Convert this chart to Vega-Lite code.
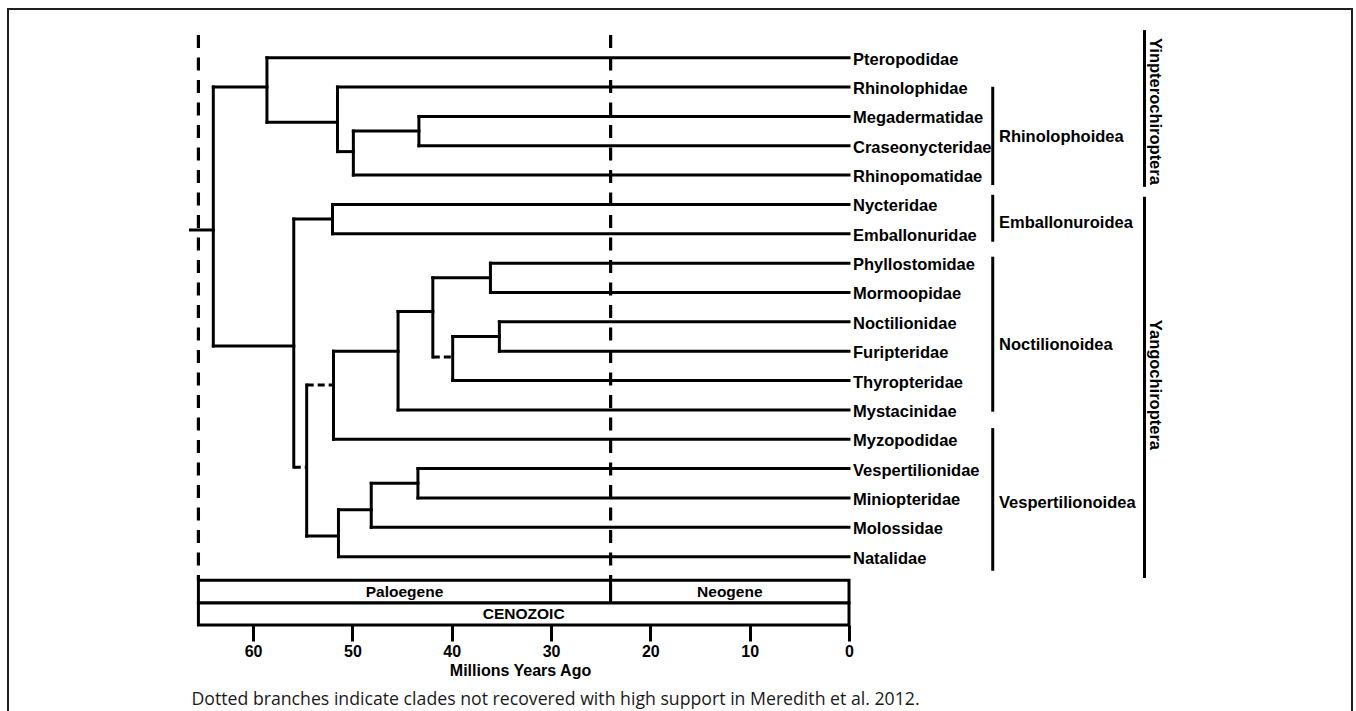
{
  "$schema": "https://vega.github.io/schema/vega-lite/v6.json",
  "autosize": {"type": "none"},
  "padding": {"left": 8, "top": 9, "right": 4, "bottom": 0},
  "width": 1344,
  "height": 702,
  "background": "white",
  "config": {
    "view": {"stroke": null},
    "text": {"font": "Liberation Sans", "fontWeight": "bold", "fontSize": 16.5, "color": "black"}
  },
  "resolve": {"axis": {"x": "independent", "y": "independent"}},
  "datasets": {
    "branches": [
      {"x1": 58.6, "x2": 0, "y1": 0, "y2": 0, "support": "high"},
      {"x1": 51.5, "x2": 0, "y1": 1, "y2": 1, "support": "high"},
      {"x1": 43.3, "x2": 0, "y1": 2, "y2": 2, "support": "high"},
      {"x1": 43.3, "x2": 0, "y1": 3, "y2": 3, "support": "high"},
      {"x1": 49.9, "x2": 0, "y1": 4, "y2": 4, "support": "high"},
      {"x1": 52.0, "x2": 0, "y1": 5, "y2": 5, "support": "high"},
      {"x1": 52.0, "x2": 0, "y1": 6, "y2": 6, "support": "high"},
      {"x1": 36.1, "x2": 0, "y1": 7, "y2": 7, "support": "high"},
      {"x1": 36.1, "x2": 0, "y1": 8, "y2": 8, "support": "high"},
      {"x1": 35.2, "x2": 0, "y1": 9, "y2": 9, "support": "high"},
      {"x1": 35.2, "x2": 0, "y1": 10, "y2": 10, "support": "high"},
      {"x1": 39.9, "x2": 0, "y1": 11, "y2": 11, "support": "high"},
      {"x1": 45.4, "x2": 0, "y1": 12, "y2": 12, "support": "high"},
      {"x1": 51.9, "x2": 0, "y1": 13, "y2": 13, "support": "high"},
      {"x1": 43.4, "x2": 0, "y1": 14, "y2": 14, "support": "high"},
      {"x1": 43.4, "x2": 0, "y1": 15, "y2": 15, "support": "high"},
      {"x1": 48.1, "x2": 0, "y1": 16, "y2": 16, "support": "high"},
      {"x1": 51.4, "x2": 0, "y1": 17, "y2": 17, "support": "high"},
      {"x1": 64.0, "x2": 58.6, "y1": 1.0, "y2": 1.0, "support": "high"},
      {"x1": 58.6, "x2": 51.5, "y1": 2.2, "y2": 2.2, "support": "high"},
      {"x1": 51.5, "x2": 49.9, "y1": 3.2, "y2": 3.2, "support": "high"},
      {"x1": 49.9, "x2": 43.3, "y1": 2.5, "y2": 2.5, "support": "high"},
      {"x1": 64.0, "x2": 55.9, "y1": 9.82, "y2": 9.82, "support": "high"},
      {"x1": 55.9, "x2": 52.0, "y1": 5.5, "y2": 5.5, "support": "high"},
      {"x1": 55.9, "x2": 54.6, "y1": 13.95, "y2": 13.95, "support": "low"},
      {"x1": 54.6, "x2": 51.9, "y1": 11.15, "y2": 11.15, "support": "low"},
      {"x1": 51.9, "x2": 45.4, "y1": 10.0, "y2": 10.0, "support": "high"},
      {"x1": 45.4, "x2": 41.9, "y1": 8.65, "y2": 8.65, "support": "high"},
      {"x1": 41.9, "x2": 36.1, "y1": 7.5, "y2": 7.5, "support": "high"},
      {"x1": 41.9, "x2": 39.9, "y1": 10.2, "y2": 10.2, "support": "low"},
      {"x1": 39.9, "x2": 35.2, "y1": 9.5, "y2": 9.5, "support": "high"},
      {"x1": 54.6, "x2": 51.4, "y1": 16.3, "y2": 16.3, "support": "high"},
      {"x1": 51.4, "x2": 48.1, "y1": 15.4, "y2": 15.4, "support": "high"},
      {"x1": 48.1, "x2": 43.4, "y1": 14.5, "y2": 14.5, "support": "high"},
      {"x1": 66.3, "x2": 64.0, "y1": 5.87, "y2": 5.87, "support": "high"},
      {"x1": 64.0, "x2": 64.0, "y1": 1.0, "y2": 9.82, "support": "high"},
      {"x1": 58.6, "x2": 58.6, "y1": 0, "y2": 2.2, "support": "high"},
      {"x1": 51.5, "x2": 51.5, "y1": 1, "y2": 3.2, "support": "high"},
      {"x1": 49.9, "x2": 49.9, "y1": 2.5, "y2": 4, "support": "high"},
      {"x1": 43.3, "x2": 43.3, "y1": 2, "y2": 3, "support": "high"},
      {"x1": 55.9, "x2": 55.9, "y1": 5.5, "y2": 13.95, "support": "high"},
      {"x1": 52.0, "x2": 52.0, "y1": 5, "y2": 6, "support": "high"},
      {"x1": 54.6, "x2": 54.6, "y1": 11.15, "y2": 16.3, "support": "high"},
      {"x1": 51.9, "x2": 51.9, "y1": 10.0, "y2": 13, "support": "high"},
      {"x1": 45.4, "x2": 45.4, "y1": 8.65, "y2": 12, "support": "high"},
      {"x1": 41.9, "x2": 41.9, "y1": 7.5, "y2": 10.2, "support": "high"},
      {"x1": 36.1, "x2": 36.1, "y1": 7, "y2": 8, "support": "high"},
      {"x1": 39.9, "x2": 39.9, "y1": 9.5, "y2": 11, "support": "high"},
      {"x1": 35.2, "x2": 35.2, "y1": 9, "y2": 10, "support": "high"},
      {"x1": 51.4, "x2": 51.4, "y1": 15.4, "y2": 17, "support": "high"},
      {"x1": 48.1, "x2": 48.1, "y1": 14.5, "y2": 16, "support": "high"},
      {"x1": 43.4, "x2": 43.4, "y1": 14, "y2": 15, "support": "high"}
    ],
    "leaves": [
      {"family": "Pteropodidae", "row": 0},
      {"family": "Rhinolophidae", "row": 1},
      {"family": "Megadermatidae", "row": 2},
      {"family": "Craseonycteridae", "row": 3},
      {"family": "Rhinopomatidae", "row": 4},
      {"family": "Nycteridae", "row": 5},
      {"family": "Emballonuridae", "row": 6},
      {"family": "Phyllostomidae", "row": 7},
      {"family": "Mormoopidae", "row": 8},
      {"family": "Noctilionidae", "row": 9},
      {"family": "Furipteridae", "row": 10},
      {"family": "Thyropteridae", "row": 11},
      {"family": "Mystacinidae", "row": 12},
      {"family": "Myzopodidae", "row": 13},
      {"family": "Vespertilionidae", "row": 14},
      {"family": "Miniopteridae", "row": 15},
      {"family": "Molossidae", "row": 16},
      {"family": "Natalidae", "row": 17}
    ],
    "superfamilies": [
      {"name": "Rhinolophoidea", "at": -14.47, "labelAt": -15.1, "top": 0.99, "bottom": 4.34, "labelRow": 2.7},
      {"name": "Emballonuroidea", "at": -14.47, "labelAt": -15.1, "top": 4.67, "bottom": 6.27, "labelRow": 5.63},
      {"name": "Noctilionoidea", "at": -14.47, "labelAt": -15.1, "top": 6.78, "bottom": 12.06, "labelRow": 9.79},
      {"name": "Vespertilionoidea", "at": -14.47, "labelAt": -15.1, "top": 12.62, "bottom": 17.48, "labelRow": 15.18}
    ],
    "suborders": [
      {"name": "Yinpterochiroptera", "at": -29.75, "labelAt": -30.3, "top": -0.94, "bottom": 4.4, "labelRow": 1.83},
      {"name": "Yangochiroptera", "at": -29.75, "labelAt": -30.3, "top": 4.74, "bottom": 17.73, "labelRow": 11.15}
    ],
    "boundaries": [
      {"ma": 65.5, "top": -0.77, "bottom": 17.8},
      {"ma": 24.0, "top": -0.77, "bottom": 17.8}
    ],
    "periods": [
      {"name": "Paloegene", "start": 65.5, "end": 24.0, "mid": 44.75, "top": 17.8, "bottom": 18.58, "labelRow": 18.19},
      {"name": "Neogene", "start": 24.0, "end": 0, "mid": 12.0, "top": 17.8, "bottom": 18.58, "labelRow": 18.19},
      {"name": "CENOZOIC", "start": 65.5, "end": 0, "mid": 32.75, "top": 18.58, "bottom": 19.33, "labelRow": 18.955}
    ],
    "caption": [
      {"text": "Dotted branches indicate clades not recovered with high support in Meredith et al. 2012.", "at": 66.2, "row": 21.88}
    ]
  },
  "layer": [
    {
      "data": {"values": [{"panel": "frame"}]},
      "mark": {"type": "rect", "fill": null, "stroke": "#1f1f1f", "strokeWidth": 2},
      "encoding": {
        "x": {"datum": 84.67, "type": "quantitative", "scale": {"domain": [-50.64, 84.67], "reverse": true, "nice": false, "zero": false},
          "axis": {"title": "Millions Years Ago", "values": [0, 10, 20, 30, 40, 50, 60], "format": "d", "domain": false, "grid": false,
            "tickSize": 16, "tickWidth": 3, "tickColor": "black", "offset": -86,
            "labelFont": "Liberation Sans", "labelFontWeight": "bold", "labelFontSize": 16, "labelColor": "black", "labelPadding": 2,
            "titleFont": "Liberation Sans", "titleFontWeight": "bold", "titleFontSize": 16, "titleColor": "black",
            "titleX": 512, "titleY": 45, "titleBaseline": "middle", "titleAlign": "center"}},
        "x2": {"datum": -50.64},
        "y": {"datum": -1.659, "type": "quantitative", "scale": {"domain": [-1.659, 22.259], "reverse": true, "nice": false, "zero": false}, "axis": null},
        "y2": {"datum": 22.8}
      }
    },
    {
      "data": {"name": "boundaries"},
      "mark": {"type": "rule", "strokeWidth": 3.2, "color": "black", "strokeDash": [13, 9.5], "strokeCap": "butt"},
      "encoding": {
        "x": {"field": "ma", "type": "quantitative", "scale": {"domain": [-50.64, 84.67], "reverse": true, "nice": false, "zero": false}, "axis": null},
        "y": {"field": "top", "type": "quantitative", "scale": {"domain": [-1.659, 22.259], "reverse": true, "nice": false, "zero": false}, "axis": null},
        "y2": {"field": "bottom"}
      }
    },
    {
      "data": {"name": "branches"},
      "transform": [{"filter": "datum.support === 'high'"}],
      "mark": {"type": "rule", "strokeWidth": 3, "color": "black", "strokeCap": "square"},
      "encoding": {
        "x": {"field": "x1", "type": "quantitative", "scale": {"domain": [-50.64, 84.67], "reverse": true, "nice": false, "zero": false}, "axis": null},
        "x2": {"field": "x2"},
        "y": {"field": "y1", "type": "quantitative", "scale": {"domain": [-1.659, 22.259], "reverse": true, "nice": false, "zero": false}, "axis": null},
        "y2": {"field": "y2"}
      }
    },
    {
      "data": {"name": "branches"},
      "transform": [{"filter": "datum.support === 'low'"}],
      "mark": {"type": "rule", "strokeWidth": 3, "color": "black", "strokeCap": "butt", "strokeDash": [7, 4]},
      "encoding": {
        "x": {"field": "x1", "type": "quantitative", "scale": {"domain": [-50.64, 84.67], "reverse": true, "nice": false, "zero": false}, "axis": null},
        "x2": {"field": "x2"},
        "y": {"field": "y1", "type": "quantitative", "scale": {"domain": [-1.659, 22.259], "reverse": true, "nice": false, "zero": false}, "axis": null},
        "y2": {"field": "y2"}
      }
    },
    {
      "data": {"name": "leaves"},
      "mark": {"type": "text", "align": "left", "baseline": "middle", "dx": 4, "dy": 2},
      "encoding": {
        "x": {"datum": 0, "type": "quantitative", "scale": {"domain": [-50.64, 84.67], "reverse": true, "nice": false, "zero": false}, "axis": null},
        "y": {"field": "row", "type": "quantitative", "scale": {"domain": [-1.659, 22.259], "reverse": true, "nice": false, "zero": false}, "axis": null},
        "text": {"field": "family"}
      }
    },
    {
      "data": {"name": "superfamilies"},
      "mark": {"type": "rule", "strokeWidth": 3, "color": "black"},
      "encoding": {
        "x": {"field": "at", "type": "quantitative", "scale": {"domain": [-50.64, 84.67], "reverse": true, "nice": false, "zero": false}, "axis": null},
        "y": {"field": "top", "type": "quantitative", "scale": {"domain": [-1.659, 22.259], "reverse": true, "nice": false, "zero": false}, "axis": null},
        "y2": {"field": "bottom"}
      }
    },
    {
      "data": {"name": "superfamilies"},
      "mark": {"type": "text", "align": "left", "baseline": "middle"},
      "encoding": {
        "x": {"field": "labelAt", "type": "quantitative", "scale": {"domain": [-50.64, 84.67], "reverse": true, "nice": false, "zero": false}, "axis": null},
        "y": {"field": "labelRow", "type": "quantitative", "scale": {"domain": [-1.659, 22.259], "reverse": true, "nice": false, "zero": false}, "axis": null},
        "text": {"field": "name"}
      }
    },
    {
      "data": {"name": "suborders"},
      "mark": {"type": "rule", "strokeWidth": 3, "color": "black"},
      "encoding": {
        "x": {"field": "at", "type": "quantitative", "scale": {"domain": [-50.64, 84.67], "reverse": true, "nice": false, "zero": false}, "axis": null},
        "y": {"field": "top", "type": "quantitative", "scale": {"domain": [-1.659, 22.259], "reverse": true, "nice": false, "zero": false}, "axis": null},
        "y2": {"field": "bottom"}
      }
    },
    {
      "data": {"name": "suborders"},
      "mark": {"type": "text", "align": "center", "baseline": "alphabetic", "angle": 90},
      "encoding": {
        "x": {"field": "labelAt", "type": "quantitative", "scale": {"domain": [-50.64, 84.67], "reverse": true, "nice": false, "zero": false}, "axis": null},
        "y": {"field": "labelRow", "type": "quantitative", "scale": {"domain": [-1.659, 22.259], "reverse": true, "nice": false, "zero": false}, "axis": null},
        "text": {"field": "name"}
      }
    },
    {
      "data": {"name": "periods"},
      "mark": {"type": "rect", "fill": "white", "stroke": "black", "strokeWidth": 3},
      "encoding": {
        "x": {"field": "start", "type": "quantitative", "scale": {"domain": [-50.64, 84.67], "reverse": true, "nice": false, "zero": false}, "axis": null},
        "x2": {"field": "end"},
        "y": {"field": "top", "type": "quantitative", "scale": {"domain": [-1.659, 22.259], "reverse": true, "nice": false, "zero": false}, "axis": null},
        "y2": {"field": "bottom"}
      }
    },
    {
      "data": {"name": "periods"},
      "mark": {"type": "text", "align": "center", "baseline": "middle", "fontSize": 15.5},
      "encoding": {
        "x": {"field": "mid", "type": "quantitative", "scale": {"domain": [-50.64, 84.67], "reverse": true, "nice": false, "zero": false}, "axis": null},
        "y": {"field": "labelRow", "type": "quantitative", "scale": {"domain": [-1.659, 22.259], "reverse": true, "nice": false, "zero": false}, "axis": null},
        "text": {"field": "name"}
      }
    },
    {
      "data": {"name": "caption"},
      "mark": {"type": "text", "align": "left", "baseline": "middle", "font": "Open Sans", "fontWeight": "normal", "fontSize": 17.7, "color": "#1a1a1a"},
      "encoding": {
        "x": {"field": "at", "type": "quantitative", "scale": {"domain": [-50.64, 84.67], "reverse": true, "nice": false, "zero": false}, "axis": null},
        "y": {"field": "row", "type": "quantitative", "scale": {"domain": [-1.659, 22.259], "reverse": true, "nice": false, "zero": false}, "axis": null},
        "text": {"field": "text"}
      }
    }
  ]
}
